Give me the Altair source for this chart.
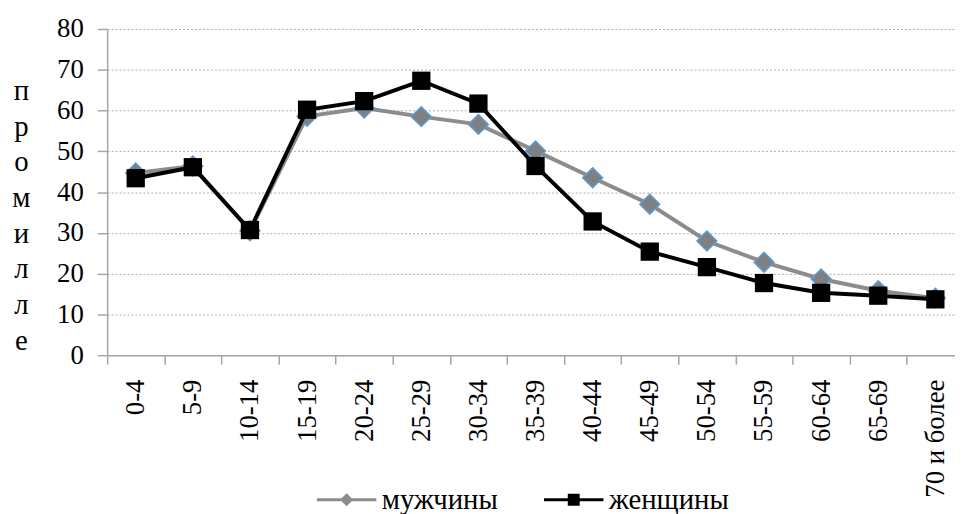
import altair as alt
import pandas as pd

ages = ["0-4", "5-9", "10-14", "15-19", "20-24", "25-29", "30-34", "35-39",
        "40-44", "45-49", "50-54", "55-59", "60-64", "65-69", "70 и более"]
male = [44.7, 46.4, 30.5, 58.6, 60.6, 58.5, 56.6, 50.1, 43.5, 37.0, 28.0, 22.8, 18.7, 15.8, 14.0]
female = [43.4, 46.1, 30.7, 60.2, 62.3, 67.3, 61.7, 46.4, 32.8, 25.4, 21.6, 17.7, 15.3, 14.6, 13.7]
series_names = ["мужчины", "женщины"]
y_ticks = [0, 10, 20, 30, 40, 50, 60, 70, 80]
y_title = list("промилле")

rows = []
for a, m, f in zip(ages, male, female):
    rows.append({"age": a, "series": series_names[0], "value": m})
    rows.append({"age": a, "series": series_names[1], "value": f})
df = pd.DataFrame(rows)

FONT = "Liberation Serif"
AXIS_GRAY = "#a6a6a6"

x = alt.X(
    "age:N", sort=ages, bandPosition=0.5,
    scale=alt.Scale(type="band", domain=ages, paddingInner=0, paddingOuter=0),
    axis=alt.Axis(title=None, labelAngle=-90, labelFont=FONT, labelFontSize=27,
                  labelColor="black", labelPadding=15, labelOverlap=False, labelLimit=400,
                  tickBand="extent", tickSize=9, tickColor=AXIS_GRAY, tickWidth=1.5,
                  domainColor=AXIS_GRAY, domainWidth=1.5, grid=False),
)
y = alt.Y(
    "value:Q",
    scale=alt.Scale(domain=[0, 80], nice=False),
    axis=alt.Axis(values=y_ticks, grid=True, gridDash=[2, 2], gridColor="#ababab", gridWidth=1,
                  labelFont=FONT, labelFontSize=27, labelColor="black", labelPadding=14,
                  tickSize=10, tickColor=AXIS_GRAY, tickWidth=1.5,
                  domainColor=AXIS_GRAY, domainWidth=1.5,
                  title=y_title, titleAngle=0, titleX=-87, titleY=62, titleAlign="center",
                  titleBaseline="middle", titleLineHeight=36, titleFont=FONT, titleFontSize=29,
                  titleFontWeight="normal", titleColor="black"),
)

shape_expr = ("datum.value === 'мужчины' ? 'M-1,0H1M0,-0.15L0.15,0L0,0.15L-0.15,0Z' "
              ": 'M-1,0H1M-0.15,-0.15H0.15V0.15H-0.15Z'")
col_expr = "datum.value === 'мужчины' ? '#8c8c8c' : '#000000'"

color = alt.Color(
    "series:N",
    scale=alt.Scale(domain=series_names, range=["#8c8c8c", "#000000"]),
    legend=alt.Legend(
        title=None, orient="none", legendX=210, legendY=443, direction="horizontal",
        symbolSize=3600, symbolStrokeWidth=3, labelFont=FONT, labelFontSize=29,
        labelColor="black", labelOffset=4, columnPadding=40,
        symbolType={"expr": shape_expr},
        symbolFillColor={"expr": col_expr},
        symbolStrokeColor={"expr": col_expr},
        symbolOpacity=1,
    ),
)

base = alt.Chart(df).encode(x=x, y=y)
is_m = alt.datum.series == series_names[0]
is_f = alt.datum.series == series_names[1]

male_line = base.transform_filter(is_m).mark_line(strokeWidth=4).encode(color=color)
male_pts = base.transform_filter(is_m).mark_point(
    shape="diamond", filled=True, size=400, fill="#808080", stroke="#5b9bd5",
    strokeWidth=1.5, opacity=1)
female_line = base.transform_filter(is_f).mark_line(strokeWidth=4).encode(color=color)
female_pts = base.transform_filter(is_f).mark_square(size=340, color="#000000", opacity=1)

chart = alt.layer(male_line, male_pts, female_line, female_pts).properties(
    width=864, height=329,
    padding={"left": 100, "top": 19, "right": -9, "bottom": 160},
    autosize=alt.AutoSizeParams(type="none"),
    background="white",
).configure_view(stroke=None)

chart.save("out.html", embed_options={"renderer": "svg", "actions": False})
